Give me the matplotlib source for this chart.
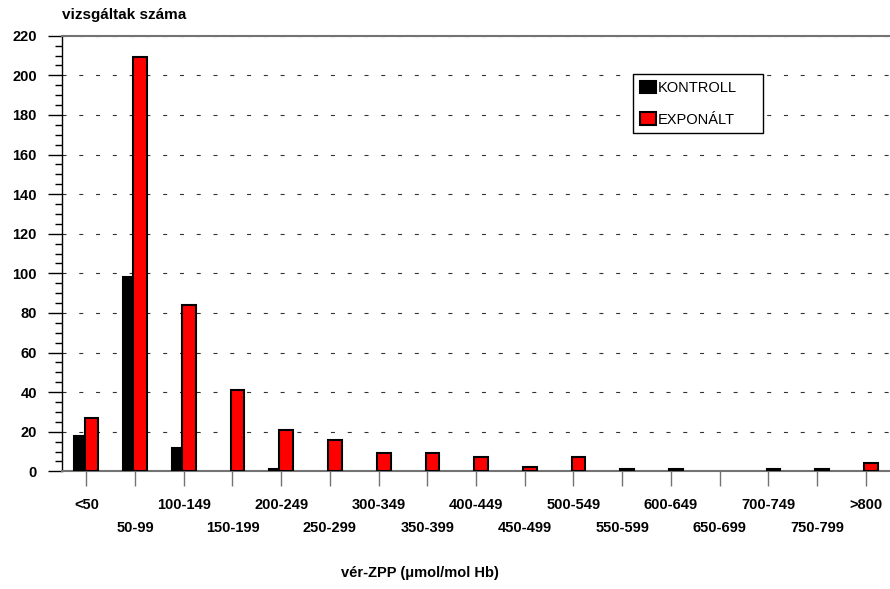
import numpy as np
import matplotlib.pyplot as plt
from matplotlib.ticker import MultipleLocator

plt.rcParams['font.family'] = ['Liberation Sans', 'DejaVu Sans']

# ------------------------------
# adatok
# ------------------------------
kategoriak = ['<50', '50-99', '100-149', '150-199', '200-249', '250-299',
              '300-349', '350-399', '400-449', '450-499', '500-549', '550-599',
              '600-649', '650-699', '700-749', '750-799', '>800']
kontroll = [18, 98, 12, 0, 1, 0, 0, 0, 0, 0, 0, 0, 0, 0, 0, 0, 0]
exponalt = [27, 209, 84, 41, 21, 16, 9, 9, 7, 2, 7, 1, 1, 0, 1, 1, 4]

# ------------------------------
# ábra
# ------------------------------
fig = plt.figure(figsize=(8.9, 5.89), dpi=100)
ax = fig.add_axes([62/890, 1 - 471.3/589, (890 - 62)/890, (471.3 - 35.7)/589])

x = np.arange(len(kategoriak))
ax.bar(x - 0.105, kontroll, width=0.28, color='black', edgecolor='black',
       linewidth=[1.5 if v else 0 for v in kontroll], zorder=3, label='KONTROLL')
ax.bar(x + 0.105, exponalt, width=0.28, color='#ff0000', edgecolor='black',
       linewidth=[1.5 if v else 0 for v in exponalt], zorder=4, label='EXPONÁLT')

ax.set_xlim(-0.5, len(kategoriak) - 0.5)
ax.set_ylim(0, 220)

ax.set_yticks(range(0, 221, 20))
ax.yaxis.set_minor_locator(MultipleLocator(5))
ax.tick_params(axis='y', which='major', length=10, width=1, pad=8, labelsize=10.5)
ax.tick_params(axis='y', which='minor', length=5, width=1)

ax.set_xticks(x)
ax.set_xticklabels(kategoriak)
ax.tick_params(axis='x', length=11, width=1, color='0.45', labelsize=10.5, pad=8.5)
for i, t in enumerate(ax.xaxis.get_major_ticks()):
    if i % 2 == 1:
        t.set_pad(25)
for lab in ax.get_xticklabels() + ax.get_yticklabels():
    lab.set_fontweight('bold')

ax.yaxis.grid(True, linestyle=(0, (3.6, 11.5)), color='0.2', linewidth=0.8)
ax.set_axisbelow(True)

ax.spines['right'].set_visible(False)
ax.spines['top'].set_color('0.45')
ax.spines['top'].set_linewidth(1.5)
ax.spines['bottom'].set_color('0.45')
ax.spines['bottom'].set_linewidth(1.5)
ax.spines['left'].set_linewidth(1)

leg = ax.legend(loc='upper left', bbox_to_anchor=(0.6896, 0.5, 0.157, 0.412),
                mode='expand', borderaxespad=0, fancybox=False, edgecolor='black',
                framealpha=1, fontsize=10.5, handlelength=1.1, handleheight=0.95,
                handletextpad=0.15, labelspacing=1.2, borderpad=0.45)
leg.get_frame().set_linewidth(1.0)

fig.text(62/890, 1 - 15/589, 'vizsgáltak száma', fontsize=11, fontweight='bold',
         ha='left', va='center')
fig.text(420/890, 1 - 573/589, 'vér-ZPP (μmol/mol Hb)', fontsize=10.5,
         fontweight='bold', ha='center', va='center')

fig.savefig('out.png', dpi=100)
